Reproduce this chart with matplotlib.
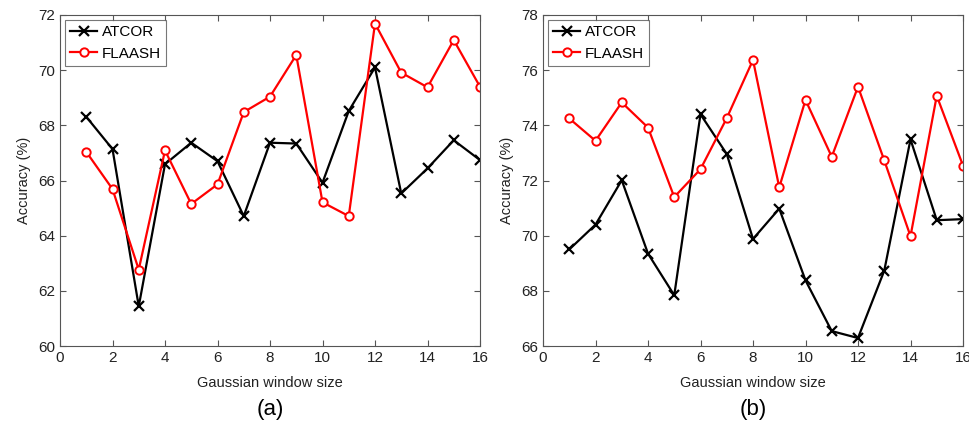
import numpy as np
import matplotlib
matplotlib.use("Agg")
import matplotlib.pyplot as plt

plt.rcParams['font.family'] = ['Liberation Sans', 'DejaVu Sans']

window = list(range(1, 17))

# panel (a)
atcor_a = [68.31, 67.14, 61.44, 66.59, 67.37, 66.70, 64.71, 67.37,
           67.34, 65.92, 68.52, 70.10, 65.53, 66.44, 67.46, 66.74]
flaash_a = [67.04, 65.69, 62.77, 67.09, 65.15, 65.86, 68.48, 69.04,
            70.55, 65.21, 64.71, 71.69, 69.91, 69.38, 71.09, 69.40]

# panel (b)
atcor_b = [69.50, 70.40, 72.01, 69.35, 67.84, 74.40, 72.96, 69.88,
           70.98, 68.38, 66.54, 66.29, 68.73, 73.49, 70.56, 70.60]
flaash_b = [74.25, 73.44, 74.83, 73.92, 71.40, 72.41, 74.26, 76.37,
            71.75, 74.92, 72.86, 75.40, 72.73, 69.98, 75.07, 72.54]

panels = [
    (atcor_a, flaash_a, (60, 72), "(a)", 60),
    (atcor_b, flaash_b, (66, 78), "(b)", 543),
]

fig = plt.figure(figsize=(9.69, 4.29), dpi=100)
W, H = 969, 429

for atc, fla, ylim, tag, x0 in panels:
    ax = fig.add_axes([x0 / W, 1 - 346 / H, 420 / W, 331 / H])
    ax.plot(window, atc, color="black", lw=1.6, marker="x", ms=7, mew=1.6,
            label="ATCOR")
    ax.plot(window, fla, color="red", lw=1.6, marker="o", ms=6, mew=1.4,
            mfc="white", label="FLAASH")
    ax.set_xlim(0, 16)
    ax.set_ylim(*ylim)
    ax.set_xticks(np.arange(0, 17, 2))
    ax.set_yticks(np.arange(ylim[0], ylim[1] + 1, 2))
    ax.tick_params(direction="in", top=True, right=True, labelsize=11,
                   colors="#555555", labelcolor="#222222", length=4)
    for s in ax.spines.values():
        s.set_color("#555555")
        s.set_linewidth(0.8)
    ax.set_xlabel("Gaussian window size", fontsize=10.5, color="#222222",
                  labelpad=8)
    ax.set_ylabel("Accuracy (%)", fontsize=10.5, color="#222222", labelpad=5)
    leg = ax.legend(loc="upper left", fontsize=11, fancybox=False,
                    edgecolor="#555555", borderpad=0.35, handlelength=1.8,
                    handletextpad=0.3, labelspacing=0.5, borderaxespad=0.3)
    leg.get_frame().set_linewidth(0.8)
    ax.text(0.5, -0.16, tag, transform=ax.transAxes, ha="center", va="top",
            fontsize=16)

fig.savefig("out.png", dpi=100)
